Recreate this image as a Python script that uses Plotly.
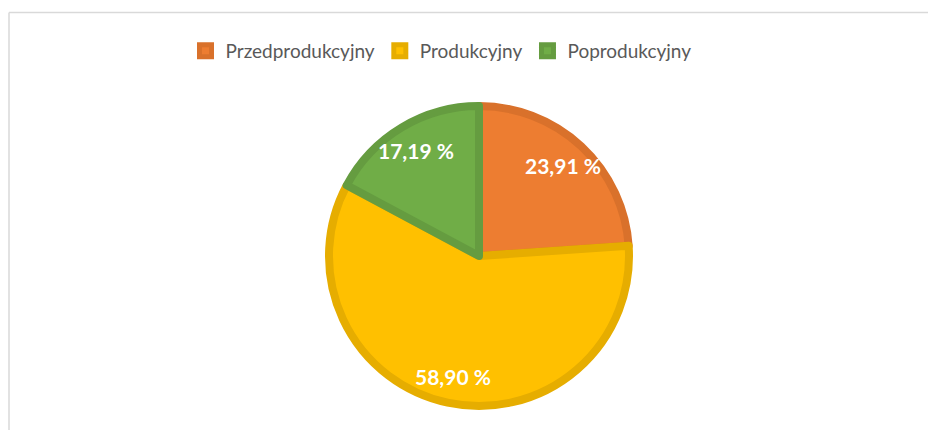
import math
import plotly.graph_objects as go

categories = ["Przedprodukcyjny", "Produkcyjny", "Poprodukcyjny"]
values = [23.91, 58.90, 17.19]
fill_colors = ["#ED7D31", "#FFC000", "#70AD47"]
line_colors = ["#D9712B", "#E6AD00", "#659C40"]

labels_text = [f"{v:.2f}".replace(".", ",") + " %" for v in values]

# figure is placed by the page with an 8px body margin
W, H = 928, 422
cx, cy, r = 471, 248, 150
label_k = 0.80

fig = go.Figure(go.Pie(
    labels=categories,
    values=values,
    textinfo="none",
    sort=False,
    direction="clockwise",
    rotation=0,
    marker=dict(colors=fill_colors, line=dict(color=line_colors, width=8)),
    domain=dict(x=[(cx - r) / W, (cx + r) / W], y=[(H - cy - r) / H, (H - cy + r) / H]),
    hoverinfo="label+percent",
))

# data labels placed at each slice's mid-angle
total = sum(values)
annotations = []
cum = 0.0
for v, t in zip(values, labels_text):
    mid = (cum + v / 2) / total
    cum += v
    th = 2 * math.pi * mid
    px = cx + label_k * (r + 4) * math.sin(th)
    py = cy - label_k * (r + 4) * math.cos(th)
    annotations.append(dict(
        x=px / W, y=1 - py / H, xref="paper", yref="paper",
        text=t, showarrow=False, xanchor="center", yanchor="middle",
        font=dict(family="Lato", size=21, color="white", weight="bold"),
    ))

fig.update_layout(
    width=W, height=H,
    margin=dict(l=0, r=0, t=0, b=0),
    paper_bgcolor="white",
    plot_bgcolor="white",
    showlegend=True,
    legend=dict(
        orientation="h",
        x=433 / W, xanchor="center",
        y=1 - 43 / H, yanchor="middle",
        font=dict(family="Lato", size=19, color="#595959"),
        itemclick=False,
        traceorder="normal",
    ),
    annotations=annotations,
    shapes=[
        dict(type="line", xref="paper", yref="paper", x0=1 / W, x1=1, y0=1 - 4.5 / H, y1=1 - 4.5 / H,
             line=dict(color="#D9D9D9", width=1.5)),
        dict(type="line", xref="paper", yref="paper", x0=1 / W, x1=1 / W, y0=0, y1=1 - 4.5 / H,
             line=dict(color="#D9D9D9", width=1.5)),
    ],
)

fig.write_html("out.html")
